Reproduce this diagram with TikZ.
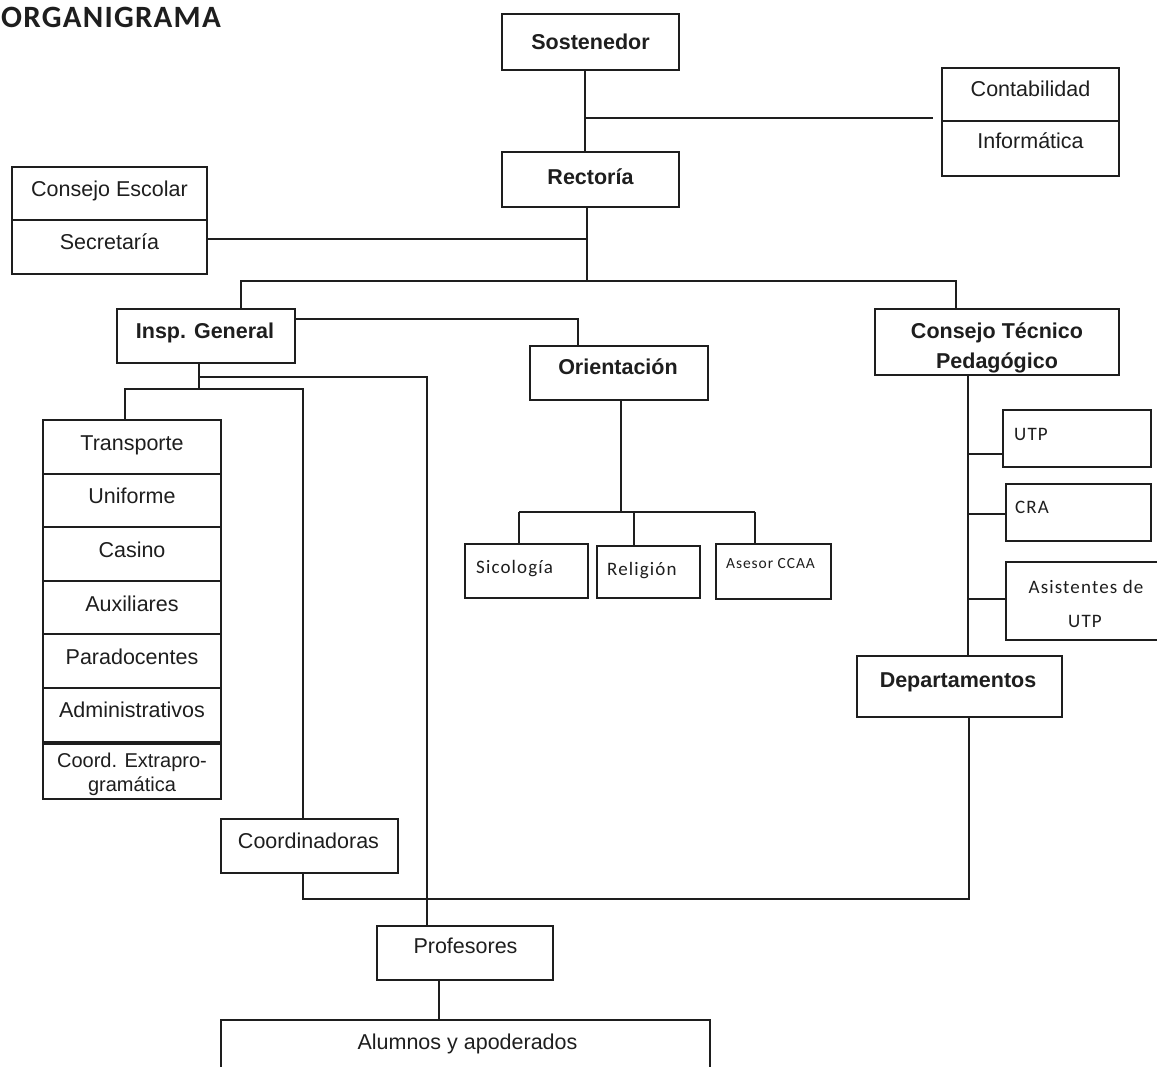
\documentclass[tikz,border=0pt]{standalone}
\usepackage{fontspec}
\setmainfont{Liberation Sans}
\newfontfamily\calf{Carlito}[LetterSpace=6]
\newfontfamily\titlef{Carlito}[LetterSpace=4]
\usetikzlibrary{calc}
\definecolor{ink}{HTML}{1E1E1E}
\begin{document}
\begin{tikzpicture}[x=1pt,y=-1pt,
  box/.style={draw=ink, line width=1.8pt, inner sep=0pt, minimum width=#1},
  conn/.style={draw=ink, line width=1.8pt},
  lab/.style={anchor=base, inner sep=0pt, text=ink, font=\fontsize{21.5}{24}\selectfont},
  slab/.style={anchor=base, inner sep=0pt, text=ink, font=\fontsize{20}{24}\selectfont},
  blab/.style={anchor=base, inner sep=0pt, text=ink, font=\fontsize{21.5}{24}\selectfont\bfseries},
  clab/.style={anchor=base west, inner sep=0pt, text=ink, font=\calf\fontsize{19}{22}\selectfont},
  ccen/.style={anchor=base, inner sep=0pt, text=ink, font=\calf\fontsize{19}{22}\selectfont}]
\useasboundingbox[fill=white] (0,0) rectangle (1157,1067);

% title
\node[anchor=base west, inner sep=0pt, text=ink, font=\titlef\bfseries\fontsize{31}{34}\selectfont] (title) at (1,28) {ORGANIGRAMA};

% boxes
\node[box=177, minimum height=56] (sost) at (590.5,42) {};
\node[box=177, minimum height=55] (rect) at (590.5,179.5) {};
\node[box=177, minimum height=53] (cont) at (1030.5,94.5) {};
\node[box=177, minimum height=55] (info) at (1030.5,148.5) {};
\node[box=195, minimum height=53] (cesc) at (109.5,193.5) {};
\node[box=195, minimum height=54] (secr) at (109.5,247) {};
\node[box=178, minimum height=54] (insp) at (206,336) {};
\node[box=178, minimum height=54] (orie) at (619,373) {};
\node[box=244, minimum height=66] (ctp) at (997,342) {};
\node[box=178, minimum height=54] (transp) at (132,447) {};
\node[box=178, minimum height=53] (unif) at (132,500.5) {};
\node[box=178, minimum height=54] (casino) at (132,554) {};
\node[box=178, minimum height=53] (aux) at (132,607.5) {};
\node[box=178, minimum height=54] (para) at (132,661) {};
\node[box=178, minimum height=54] (admin) at (132,715) {};
\node[box=178, minimum height=57] (coordx) at (132,770.5) {};
\node[box=123, minimum height=54] (sico) at (526.5,571) {};
\node[box=103, minimum height=52] (reli) at (648.5,572) {};
\node[box=115, minimum height=55] (ases) at (773.5,571.5) {};
\node[box=148, minimum height=57] (utp) at (1077,438.5) {};
\node[box=145, minimum height=57] (cra) at (1078.5,512.5) {};
\node[box=156, minimum height=78] (asis) at (1084,601) {};
\node[box=205, minimum height=61] (dep) at (959.5,686.5) {};
\node[box=177, minimum height=54] (coord) at (309.5,846) {};
\node[box=176, minimum height=54] (prof) at (465,953) {};
\node[box=489, minimum height=60] (alum) at (465.5,1050) {};
\draw[ink, line width=3.2pt] (admin.south west) -- (admin.south east);

% labels
\node[blab] (tsost) at (590.5,50) {Sostenedor};
\node[blab] (trect) at (590.5,185) {Rectoría};
\node[lab] (tcont) at (1030.5,97) {Contabilidad};
\node[lab] (tinfo) at (1030.5,149) {Informática};
\node[lab] (tcesc) at (109.5,197) {Consejo Escolar};
\node[lab] (tsecr) at (109.5,250) {Secretaría};
\node[blab] (tinsp) at (205,339) {Insp. General};
\node[blab] (torie) at (618,374) {Orientación};
\node[blab] (tctpa) at (997,338) {Consejo Técnico};
\node[blab] (tctpb) at (997,368) {Pedagógico};
\node[lab] (ttransp) at (132,450) {Transporte};
\node[lab] (tunif) at (132,503) {Uniforme};
\node[lab] (tcasino) at (132,557) {Casino};
\node[lab] (taux) at (132,611) {Auxiliares};
\node[lab] (tpara) at (132,664) {Paradocentes};
\node[lab] (tadmin) at (132,717) {Administrativos};
\node[slab] (tcoordxa) at (132,767) {Coord. Extrapro-};
\node[slab] (tcoordxb) at (132,791) {gramática};
\node[clab] (tsico) at (476,573) {Sicología};
\node[clab] (treli) at (607,575) {Religión};
\node[clab, font=\calf\fontsize{15.5}{18}\selectfont] (tases) at (726,568) {Asesor CCAA};
\node[clab] (tutp) at (1014,440) {UTP};
\node[clab] (tcra) at (1015,513) {CRA};
\node[ccen] (tasisa) at (1086,593) {Asistentes de};
\node[ccen] (tasisb) at (1085,627) {UTP};
\node[blab] (tdep) at (958,687) {Departamentos};
\node[lab] (tcoord) at (308.5,848) {Coordinadoras};
\node[lab] (tprof) at (465.5,953) {Profesores};
\node[lab] (talum) at (467.5,1049) {Alumnos y apoderados};

% junction coordinates
\coordinate (jc) at (585,118);
\coordinate (rb) at (587,281);
\coordinate (js) at (587,239);
\coordinate (hl) at (241,281);
\coordinate (hr) at (956,281);
\coordinate (jo) at (578,319);
\coordinate (ja) at (199,377);
\coordinate (jb) at (199,390);
\coordinate (jp) at (427,377);
\coordinate (jt) at (125,389);
\coordinate (jk) at (303,389);
\coordinate (jd1) at (303,899);
\coordinate (jd2) at (969,899);
\coordinate (jv) at (968,0);
\coordinate (s1) at (968,454);
\coordinate (s2) at (968,514);
\coordinate (s3) at (968,599);
\coordinate (jq) at (621,512);
\coordinate (q1) at (519,512);
\coordinate (q2) at (634,512);
\coordinate (q3) at (755,512);
\coordinate (jz) at (439,0);

% connectors
\draw[conn] ($(sost.south)+(-5.5,0)$) -- ($(rect.north)+(-5.5,0)$);
\draw[conn] (jc) -- ($(jc -| cont.west)+(-8,0)$);
\draw[conn] (rb |- rect.south) -- (rb);
\draw[conn] (js -| secr.east) -- (js);
\draw[conn] (hl |- insp.north) -- (hl) -- (hr) -- (hr |- ctp.north);
\draw[conn] (jo -| insp.east) -- (jo) -- (jo |- orie.north);
\draw[conn] (ja |- insp.south) -- (jb);
\draw[conn] (ja) -- (jp) -- (jp |- prof.north);
\draw[conn] (jt |- transp.north) -- (jt) -- (jk) -- (jk |- coord.north);
\draw[conn] (jd1 |- coord.south) -- (jd1) -- (jd2) -- (jd2 |- dep.south);
\draw[conn] (jv |- ctp.south) -- (jv |- dep.north);
\draw[conn] (s1) -- (s1 -| utp.west);
\draw[conn] (s2) -- (s2 -| cra.west);
\draw[conn] (s3) -- (s3 -| asis.west);
\draw[conn] (jq |- orie.south) -- (jq);
\draw[conn] (q1) -- (q3);
\draw[conn] (q1) -- (q1 |- sico.north);
\draw[conn] (q2) -- (q2 |- reli.north);
\draw[conn] (q3) -- (q3 |- ases.north);
\draw[conn] (jz |- prof.south) -- (jz |- alum.north);
\end{tikzpicture}
\end{document}
